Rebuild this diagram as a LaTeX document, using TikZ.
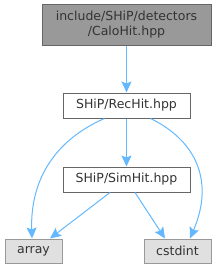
\documentclass[tikz,border=0pt]{standalone}
\usepackage{fontspec}
\setmainfont{DejaVu Sans}
\usetikzlibrary{arrows.meta}
\definecolor{edgeblue}{HTML}{63B8FF}
\definecolor{bordgray}{HTML}{666666}
\definecolor{lightbord}{HTML}{999999}
\definecolor{topfill}{HTML}{999999}
\definecolor{extfill}{HTML}{E0E0E0}
\definecolor{txt}{HTML}{333333}
\tikzset{
  box/.style={draw=bordgray, line width=1pt, inner sep=0pt, align=center, text=txt,
    font=\fontsize{12.5}{15}\selectfont},
  extbox/.style={box, draw=lightbord, fill=extfill},
  edge/.style={draw=edgeblue, line width=1pt, -{Stealth[length=11pt,width=10pt,inset=2pt]}}
}
\begin{document}
\begin{tikzpicture}[x=1pt,y=-1pt]
\useasboundingbox (0,0) rectangle (216,271);
\node[box, fill=topfill, minimum width=169pt, minimum height=41pt] (top) at (126.5,24.5) {include/SHiP/detectors\\/CaloHit.hpp};
\node[box, fill=white, minimum width=127pt, minimum height=25pt] (rec) at (126.5,105.5) {SHiP/RecHit.hpp};
\node[box, fill=white, minimum width=127pt, minimum height=25pt] (sim) at (126.5,179.5) {SHiP/SimHit.hpp};
\node[extbox, minimum width=57pt, minimum height=24pt] (arr) at (33.5,251) {array};
\node[extbox, minimum width=67pt, minimum height=24pt] (cst) at (177.5,251) {cstdint};
\draw[edge] (top.south) -- (rec.north);
\draw[edge] (rec.south) -- (sim.north);
\draw[edge] ([xshift=-22pt]rec.south) .. controls (55,140) and (30,180) .. ([xshift=-1.5pt]arr.north);
\draw[edge] ([xshift=24pt]rec.south) .. controls (195,140) and (215,180) .. ([xshift=12.5pt]cst.north);
\draw[edge] ([xshift=-16.5pt]sim.south) -- ([xshift=16.5pt]arr.north);
\draw[edge] ([xshift=8.5pt]sim.south) -- ([xshift=-12.5pt]cst.north);
\end{tikzpicture}
\end{document}
